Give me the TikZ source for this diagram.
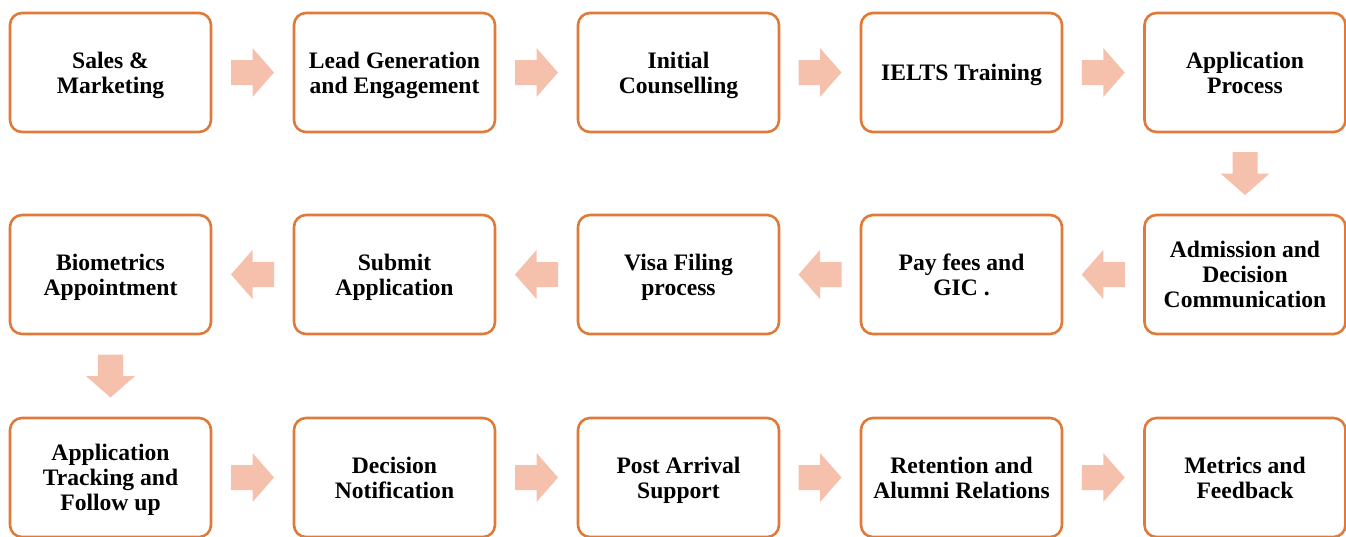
\documentclass[tikz,border=0pt]{standalone}
\usepackage{fontspec}
\setmainfont{Liberation Serif}
\usetikzlibrary{calc}
\definecolor{boxline}{RGB}{224,122,58}
\definecolor{arrfill}{RGB}{245,192,172}
\tikzset{
  stagebox/.style={draw=boxline, line width=2.6pt, rounded corners=12pt, fill=white,
    minimum width=201pt, minimum height=119pt, align=center, inner sep=2pt,
    font=\fontsize{23.6}{25}\selectfont\bfseries, text=black},
  blockarrow/.pic={
    \fill[arrfill] (-21.5,-12.5) -- (0,-12.5) -- (0,-24.5) -- (21.5,0) -- (0,24.5) -- (0,12.5) -- (-21.5,12.5) -- cycle;
  }
}
\newcommand{\lowtxt}[1]{\raisebox{-3pt}[\height][\depth]{\strut #1}}
\begin{document}
\begin{tikzpicture}[x=1pt,y=-1pt]
\useasboundingbox (0,0) rectangle (1346,536);
% row 1
\node[stagebox] (b1) at (110.5,72.5) {\lowtxt{Sales \&}\\\lowtxt{Marketing}};
\node[stagebox] (b2) at (394.5,72.5) {\lowtxt{Lead Generation}\\\lowtxt{and Engagement}};
\node[stagebox] (b3) at (678.5,72.5) {\lowtxt{Initial}\\\lowtxt{Counselling}};
\node[stagebox] (b4) at (961.5,72.5) {\lowtxt{IELTS Training}};
\node[stagebox] (b5) at (1245,72.5) {\lowtxt{Application}\\\lowtxt{Process}};
% row 2
\node[stagebox] (b6) at (1245,274.5) {\lowtxt{Admission and}\\\lowtxt{Decision}\\\lowtxt{Communication}};
\node[stagebox] (b7) at (961.5,274.5) {\lowtxt{Pay fees and}\\\lowtxt{GIC .}};
\node[stagebox] (b8) at (678.5,274.5) {\lowtxt{Visa Filing}\\\lowtxt{process}};
\node[stagebox] (b9) at (394.5,274.5) {\lowtxt{Submit}\\\lowtxt{Application}};
\node[stagebox] (b10) at (110.5,274.5) {\lowtxt{Biometrics}\\\lowtxt{Appointment}};
% row 3
\node[stagebox] (b11) at (110.5,477.5) {\lowtxt{Application}\\\lowtxt{Tracking and}\\\lowtxt{Follow up}};
\node[stagebox] (b12) at (394.5,477.5) {\lowtxt{Decision}\\\lowtxt{Notification}};
\node[stagebox] (b13) at (678.5,477.5) {\lowtxt{Post Arrival}\\\lowtxt{Support}};
\node[stagebox] (b14) at (961.5,477.5) {\lowtxt{Retention and}\\\lowtxt{Alumni Relations}};
\node[stagebox] (b15) at (1245,477.5) {\lowtxt{Metrics and}\\\lowtxt{Feedback}};
% arrows
\foreach \a/\b in {b1/b2,b2/b3,b3/b4,b4/b5,b11/b12,b12/b13,b13/b14,b14/b15}{
  \pic at ($(\a.east)!0.5!(\b.west)$) {blockarrow};
}
\foreach \a/\b in {b6/b7,b7/b8,b8/b9,b9/b10}{
  \pic[rotate=180] at ($(\a.west)!0.5!(\b.east)$) {blockarrow};
}
\foreach \a/\b in {b5/b6,b10/b11}{
  \pic[rotate=-90] at ($(\a.south)!0.5!(\b.north)$) {blockarrow};
}
\end{tikzpicture}
\end{document}
